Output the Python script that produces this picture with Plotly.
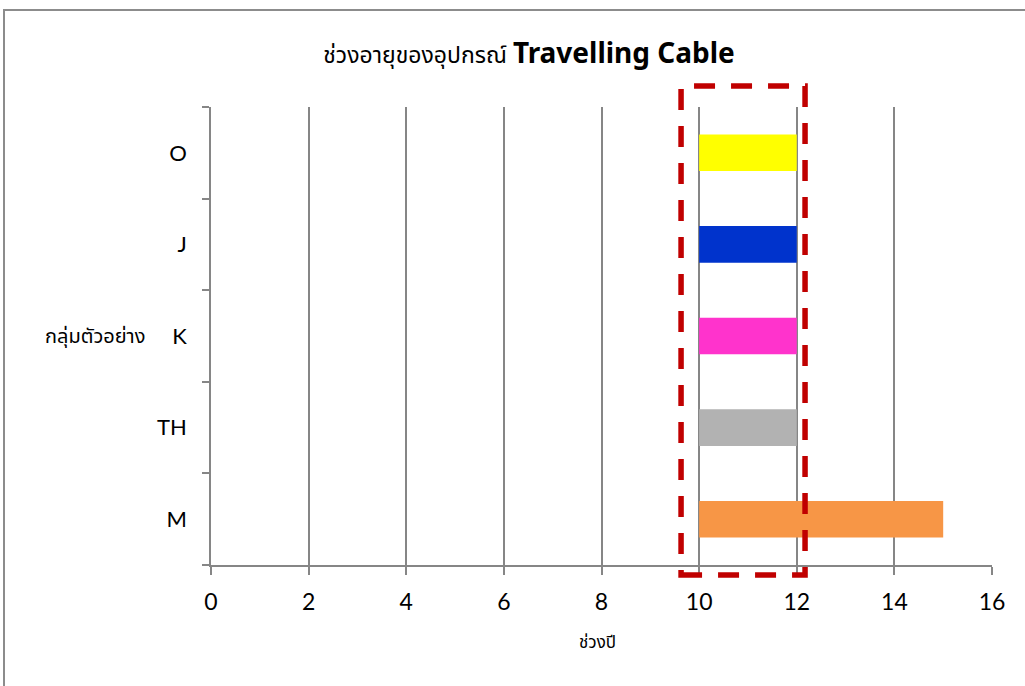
import plotly.graph_objects as go

# Sample groups (bottom to top) and their equipment age ranges in years
groups = ["M", "TH", "K", "J", "O"]
age_start = [10, 10, 10, 10, 10]
age_end = [15, 12, 12, 12, 12]
bar_colors = ["#F79646", "#B2B2B2", "#FF33CC", "#0033CC", "#FFFF00"]
x_ticks = [0, 2, 4, 6, 8, 10, 12, 14, 16]

W, H = 1025, 686
L, R, T, B = 211, 33, 107, 121
pw, ph = W - L - R, H - T - B

def px_x(p):
    return (p - L) / pw

def px_y(p):
    return (H - B - p) / ph

lengths = [e - s for s, e in zip(age_start, age_end)]

fig = go.Figure()
fig.add_trace(go.Bar(
    y=groups, x=lengths, base=age_start, orientation="h",
    marker=dict(color=bar_colors, line=dict(width=0)),
    width=0.4, hoverinfo="skip", showlegend=False,
))

latin = "Lato, 'Open Sans', sans-serif"
thai = "'Noto Sans', 'Noto Sans Thai', Tahoma, sans-serif"

fig.update_layout(
    width=W, height=H,
    margin=dict(l=L, r=R, t=T, b=B),
    paper_bgcolor="white", plot_bgcolor="white",
    font=dict(family=latin, color="black"),
    title=dict(
        text="<span style='font-size:23px'>ช่วงอายุของอุปกรณ์</span> "
             "<b style='font-size:28px'>Travelling Cable</b>",
        x=529 / W, xanchor="center", xref="container",
        y=1 - 55 / H, yanchor="middle", yref="container",
        font=dict(family=thai, size=23, color="black"),
    ),
    xaxis=dict(
        range=[0, 16], tickvals=x_ticks, ticktext=[str(v) for v in x_ticks],
        showgrid=True, gridcolor="#868686", gridwidth=1.5,
        showline=True, linecolor="#868686", linewidth=2,
        ticks="outside", ticklen=8, tickcolor="#868686", tickwidth=1.5,
        tickfont=dict(size=23, family=latin, color="black"),
        ticklabelstandoff=7, zeroline=False, fixedrange=True,
    ),
    yaxis=dict(
        type="category", categoryorder="array", categoryarray=groups,
        range=[-0.5, 4.5], tickson="boundaries",
        showgrid=False, showline=True, linecolor="#868686", linewidth=1.5,
        ticks="outside", ticklen=7, tickcolor="#868686", tickwidth=1.5,
        tickfont=dict(size=22, family=latin, color="black"),
        ticklabelstandoff=18, fixedrange=True,
    ),
)

# Axis titles
fig.add_annotation(text="ช่วงปี", xref="paper", yref="paper",
                   x=px_x(597), y=px_y(641), showarrow=False,
                   font=dict(family=thai, size=17, color="black"),
                   xanchor="center", yanchor="middle")
fig.add_annotation(text="กลุ่มตัวอย่าง", xref="paper", yref="paper",
                   x=px_x(95), y=px_y(335), showarrow=False,
                   font=dict(family=thai, size=20, color="black"),
                   xanchor="center", yanchor="middle")

# Highlight box around the common 10-12 year range
fig.add_shape(type="rect", xref="x", yref="paper",
              x0=9.63, x1=12.17, y0=px_y(575), y1=px_y(86),
              line=dict(color="#C00000", width=5.5, dash="21px,16px"),
              fillcolor="rgba(0,0,0,0)", layer="above")

# Chart frame
fig.add_shape(type="rect", xref="paper", yref="paper",
              x0=px_x(4), x1=px_x(1040), y0=px_y(720), y1=px_y(10),
              line=dict(color="#8C8C8C", width=2),
              fillcolor="rgba(0,0,0,0)", layer="below")

fig.write_html("out.html")
